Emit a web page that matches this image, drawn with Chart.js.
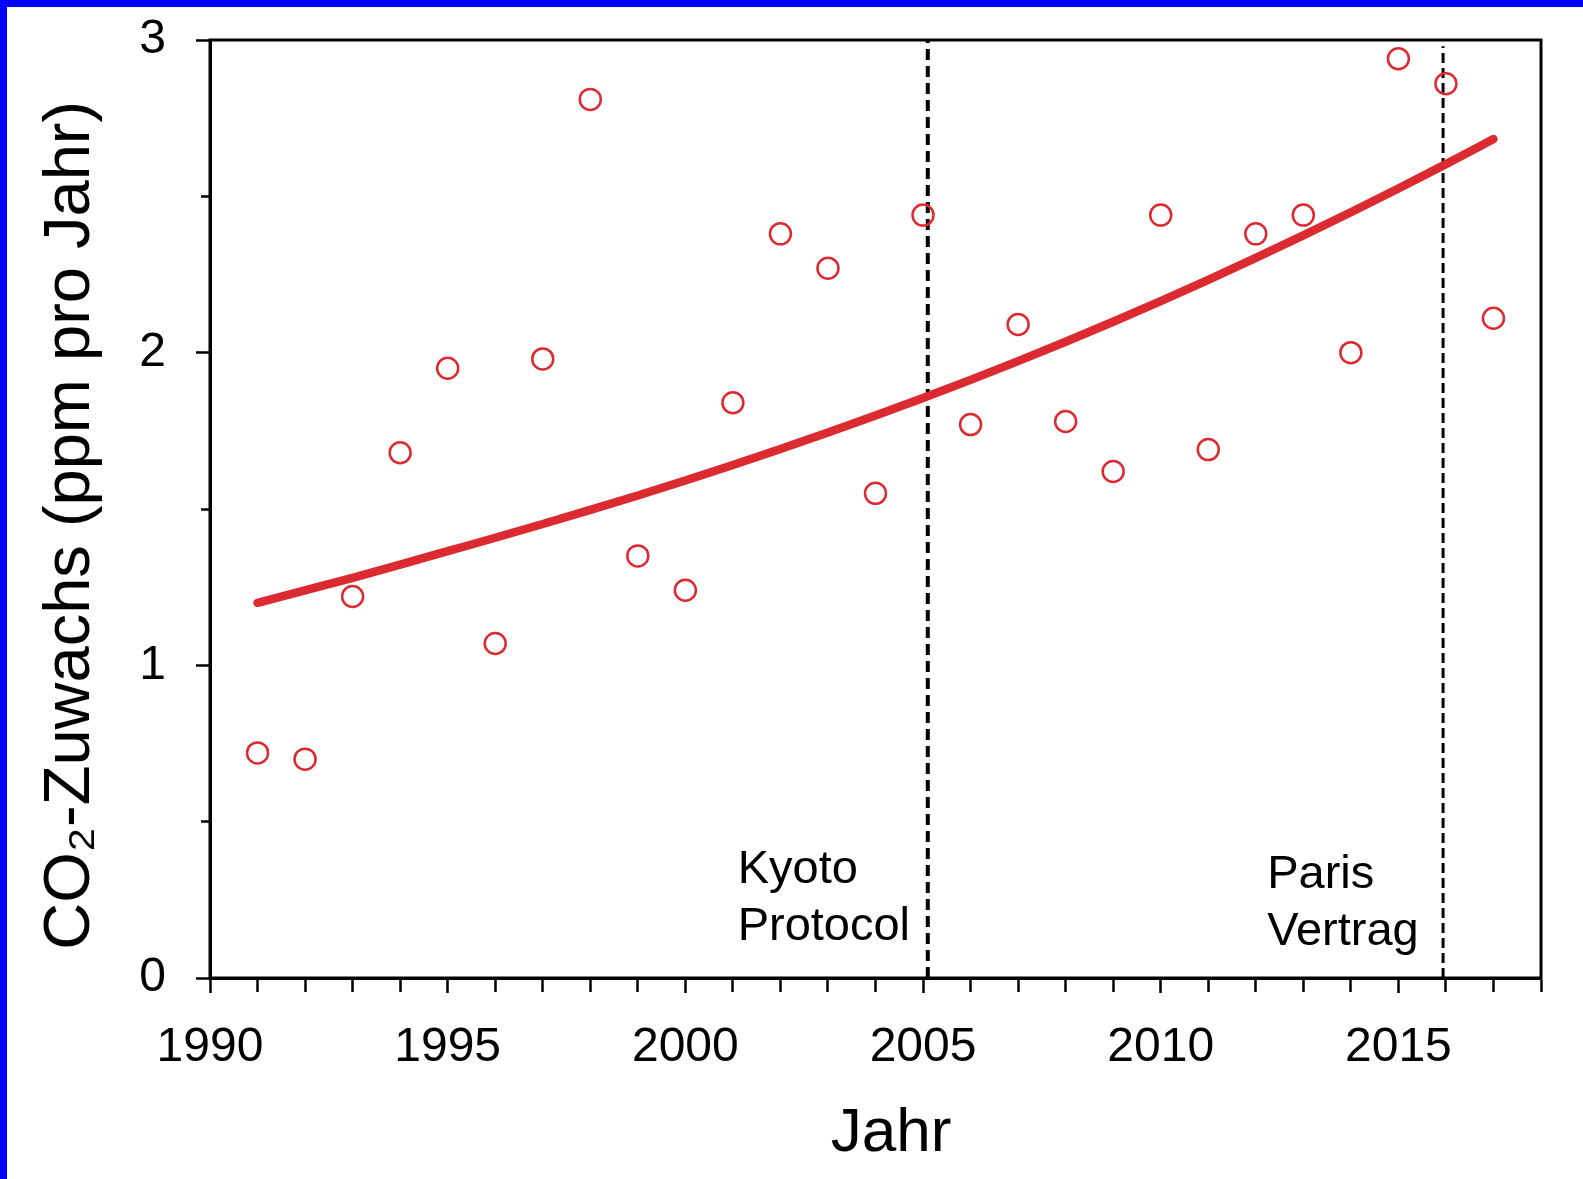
<!DOCTYPE html>
<html>
<head>
<meta charset="utf-8">
<script src="https://cdn.jsdelivr.net/npm/chart.js@4.4.1/dist/chart.umd.min.js"></script>
<style>
    body { margin: 0; background: #fff; }
    #frame { width: 1576px; height: 1172px; border-top: 7px solid #0000ff; border-left: 7px solid #0000ff; }
    canvas { display: block; }
</style>
</head>
<body>
<div id="frame"><canvas id="chart-co2" width="1576" height="1172"></canvas></div>
<script>
const years = [1991, 1992, 1993, 1994, 1995, 1996, 1997, 1998, 1999, 2000, 2001, 2002, 2003, 2004,
    2005, 2006, 2007, 2008, 2009, 2010, 2011, 2012, 2013, 2014, 2015, 2016, 2017];
const growth = [0.72, 0.70, 1.22, 1.68, 1.95, 1.07, 1.98, 2.81, 1.35, 1.24, 1.84, 2.38, 2.27, 1.55,
    2.44, 1.77, 2.09, 1.78, 1.62, 2.44, 1.69, 2.38, 2.44, 2.00, 2.94, 2.86, 2.11];
const trend = [1.200, 1.240, 1.280, 1.322, 1.365, 1.408, 1.452, 1.497, 1.543, 1.591, 1.641, 1.692, 1.745, 1.799,
    1.855, 1.913, 1.973, 2.035, 2.099, 2.165, 2.233, 2.303, 2.375, 2.449, 2.525, 2.603, 2.683];
const kyotoYear = 2005.1;
const parisYear = 2015.94;
const xLabels = [1990, 1995, 2000, 2005, 2010, 2015];
const yLabels = [0, 1, 2, 3];

const red = '#dc2a31';
const fontFamily = '"Liberation Sans", Arial, sans-serif';

// text next to the dashed lines, anchored in data units
const notes = [
    { x: 2001.1, y: 0.304, text: 'Kyoto' },
    { x: 2001.1, y: 0.122, text: 'Protocol' },
    { x: 2012.24, y: 0.288, text: 'Paris' },
    { x: 2012.24, y: 0.106, text: 'Vertrag' },
];

const notesPlugin = {
    id: 'notes',
    afterDatasetsDraw(chart) {
        const { ctx, chartArea, scales } = chart;
        ctx.save();
        ctx.strokeStyle = '#000';
        ctx.lineWidth = 3;
        ctx.strokeRect(chartArea.left, chartArea.top, chartArea.right - chartArea.left, chartArea.bottom - chartArea.top);
        ctx.fillStyle = '#000';
        ctx.font = '47px ' + fontFamily;
        ctx.textAlign = 'left';
        ctx.textBaseline = 'alphabetic';
        notes.forEach(n => {
            ctx.fillText(n.text, scales.x.getPixelForValue(n.x), scales.y.getPixelForValue(n.y));
        });
        ctx.restore();
    }
};

function getChart() {
    const ctx = document.getElementById('chart-co2');

    const data = {
        datasets: [{
            type: 'scatter',
            data: years.map((y, i) => ({ x: y, y: growth[i] })),
            pointStyle: 'circle',
            pointRadius: 10.5,
            pointBorderWidth: 2.5,
            pointBorderColor: red,
            pointBackgroundColor: 'rgba(0,0,0,0)',
            clip: false,
        }, {
            type: 'line',
            data: years.map((y, i) => ({ x: y, y: trend[i] })),
            borderColor: red,
            borderWidth: 8.5,
            borderCapStyle: 'round',
            borderJoinStyle: 'round',
            pointRadius: 0,
            cubicInterpolationMode: 'monotone',
        }, {
            type: 'line',
            data: [{ x: kyotoYear, y: 0 }, { x: kyotoYear, y: 3 }],
            borderColor: '#000',
            borderWidth: 4,
            borderDash: [11, 6],
            pointRadius: 0,
        }, {
            type: 'line',
            data: [{ x: parisYear, y: 0 }, { x: parisYear, y: 2.98 }],
            borderColor: '#000',
            borderWidth: 3,
            borderDash: [10, 5],
            pointRadius: 0,
        }]
    };

    const options = {
        responsive: false,
        animation: false,
        layout: { padding: { left: 0, top: 33, right: 42, bottom: 0 } },
        plugins: {
            legend: { display: false },
            tooltip: { enabled: false },
        },
        scales: {
            x: {
                type: 'linear',
                min: 1990,
                max: 2018,
                afterFit: (scale) => {
                    scale.height = 201;
                    scale.paddingLeft = 0;
                    scale.paddingRight = 0;
                },
                border: { display: true, color: '#000', width: 3 },
                grid: {
                    drawOnChartArea: false,
                    tickLength: 15,
                    tickWidth: 2.5,
                    tickColor: '#000',
                    // year ticks shorter than the labelled ones
                    tickBorderDash: (c) => xLabels.includes(c.tick.value) ? [] : [12, 100],
                },
                ticks: {
                    stepSize: 1,
                    autoSkip: false,
                    maxRotation: 0,
                    padding: 26,
                    color: '#000',
                    font: { size: 48, family: fontFamily },
                    callback: (v) => xLabels.includes(v) ? String(v) : '',
                },
                title: {
                    display: true,
                    text: '\u2002Jahr',
                    color: '#000',
                    font: { size: 62, family: fontFamily },
                    padding: { top: 0, bottom: 8 },
                },
            },
            y: {
                min: 0,
                max: 3,
                afterFit: (scale) => {
                    scale.width = 203;
                    scale.paddingTop = 0;
                    scale.paddingBottom = 0;
                },
                border: { display: true, color: '#000', width: 3 },
                grid: {
                    drawOnChartArea: false,
                    tickLength: 14,
                    tickWidth: 2.5,
                    tickColor: '#000',
                    tickBorderDash: (c) => yLabels.includes(c.tick.value) ? [] : [0, 5, 20, 100],
                },
                ticks: {
                    stepSize: 0.5,
                    autoSkip: false,
                    padding: 30,
                    color: '#000',
                    font: { size: 48, family: fontFamily },
                    callback: (v) => yLabels.includes(v) ? String(v) : '',
                },
                title: {
                    display: true,
                    text: 'CO\u2082-Zuwachs (ppm pro Jahr)\u2002',
                    color: '#000',
                    font: { size: 65, family: fontFamily },
                    padding: { top: 25, bottom: 0 },
                },
            }
        }
    };

    new Chart(ctx, { data, options, plugins: [notesPlugin] });
}

getChart();
</script>
</body>
</html>
